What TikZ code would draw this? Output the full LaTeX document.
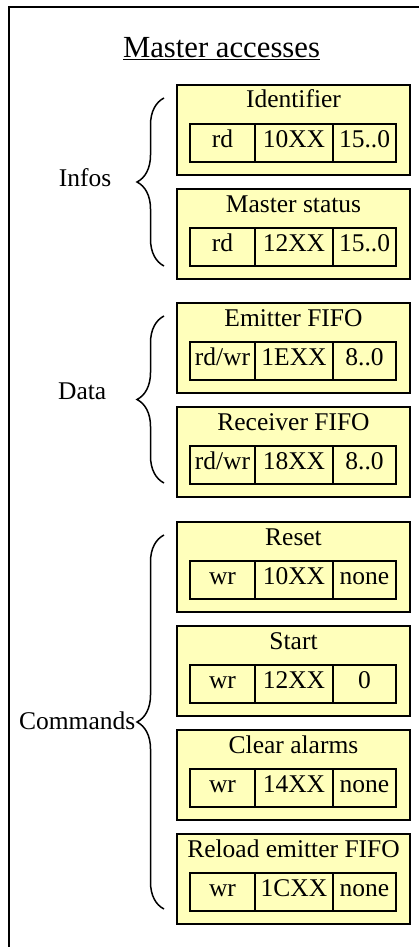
\documentclass[tikz,border=0pt]{standalone}
\usepackage{fontspec}
\setmainfont{Liberation Serif}
\usetikzlibrary{positioning,calc,decorations.pathreplacing}
\definecolor{regfill}{RGB}{255,255,187}

% one register: name, top, title, mode, address, bits
\newcommand{\regbox}[6]{%
  \node[regbox] (#1) at (293.5,#2) {};
  \node[anchor=base] (#1-t) at ($(#1.north)+(0,23)$) {#3};
  \node[cell, minimum width=65pt, anchor=north west] (#1-m) at ($(#1.north west)+(13,39)$) {#4};
  \node[cell, minimum width=78pt, right=0pt of #1-m] (#1-a) {#5};
  \node[cell, minimum width=63pt, right=0pt of #1-a] (#1-b) {#6};
}

\begin{document}
\begin{tikzpicture}[x=1pt, y=-1pt, font=\fontsize{25.5}{30}\selectfont,
    regbox/.style={rectangle, draw, fill=regfill, line width=2.5pt, outer sep=0pt, anchor=north, minimum width=233pt, minimum height=90pt},
    cell/.style={rectangle, draw, line width=2.5pt, outer sep=0pt, inner sep=0pt, minimum height=38pt, text height=14pt, text depth=6pt},
    brace/.style={decorate, decoration={brace, amplitude=27pt}, line width=1.5pt},
    grouplabel/.style={inner sep=0pt, anchor=base east}]
    \useasboundingbox (0,0) rectangle (419,947);
    \draw[line width=2pt] (9,947) -- (9,7) -- (419,7);
    \node[font=\fontsize{30.7}{36}\selectfont, anchor=base] (title) at (221.5,58) {\underline{Master accesses}};

    \regbox{ident}{85}{Identifier}{rd}{10XX}{15..0}
    \regbox{mstat}{189}{Master status}{rd}{12XX}{15..0}
    \regbox{emit}{303}{Emitter FIFO}{rd/wr}{1EXX}{8..0}
    \regbox{recv}{407}{Receiver FIFO}{rd/wr}{18XX}{8..0}
    \regbox{reset}{522}{Reset}{wr}{10XX}{none}
    \regbox{start}{626}{Start}{wr}{12XX}{0}
    \regbox{clr}{730}{Clear alarms}{wr}{14XX}{none}
    \regbox{reload}{834}{Reload emitter FIFO}{wr}{1CXX}{none}

    \draw[brace] ([xshift=-13pt,yshift=13pt]mstat.south west) -- ([xshift=-13pt,yshift=-13pt]ident.north west)
        node[grouplabel, midway, xshift=-52pt, yshift=-4pt] (infos) {Infos};
    \draw[brace] ([xshift=-13pt,yshift=14pt]recv.south west) -- ([xshift=-13pt,yshift=-13pt]emit.north west)
        node[grouplabel, midway, xshift=-57pt] (data) {Data};
    \draw[brace] ([xshift=-13pt,yshift=15pt]reload.south west) -- ([xshift=-13pt,yshift=-13pt]reset.north west)
        node[grouplabel, midway, xshift=-28pt, yshift=-7pt] (cmds) {Commands};
\end{tikzpicture}
\end{document}
